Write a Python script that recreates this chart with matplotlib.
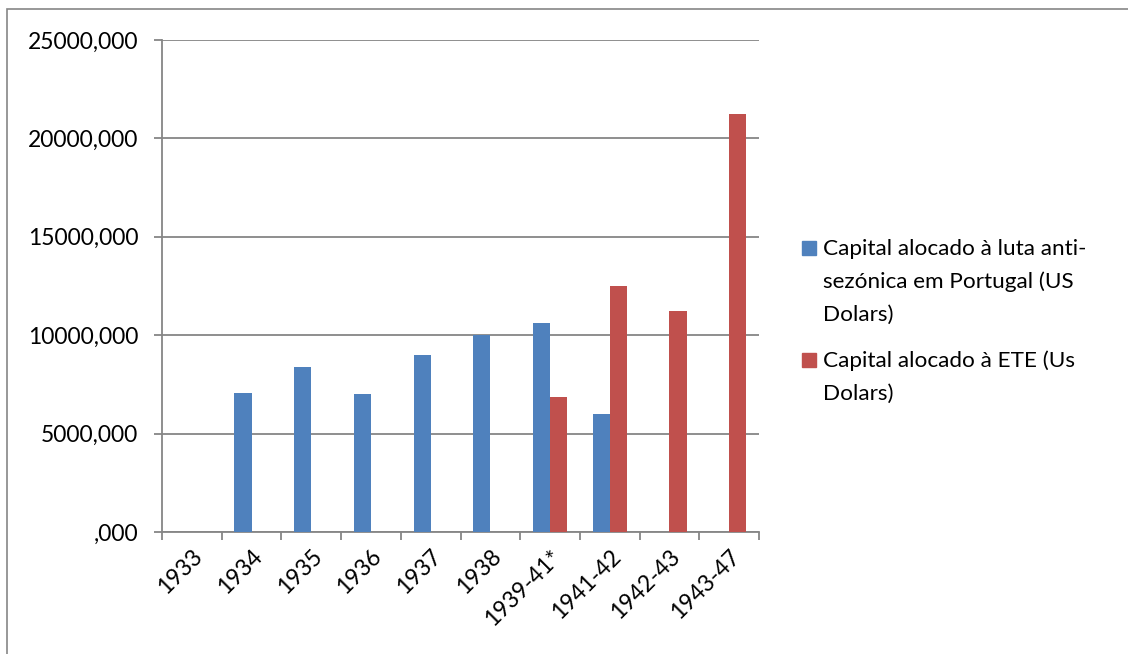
import matplotlib.pyplot as plt
import matplotlib.patches as patches
from matplotlib.ticker import FixedLocator, FuncFormatter
import numpy as np

plt.rcParams['font.family'] = ['Lato', 'DejaVu Sans']

periods = ['1933', '1934', '1935', '1936', '1937', '1938',
           '1939-41*', '1941-42', '1942-43', '1943-47']
luta = [0, 7050, 8400, 7000, 9000, 10000, 10600, 6000, 0, 0]
ete = [0, 0, 0, 0, 0, 0, 6850, 12500, 11250, 21250]

label_luta = ['Capital alocado à luta anti-', 'sezónica em Portugal (US', 'Dolars)']
label_ete = ['Capital alocado à ETE (Us', 'Dolars)']

blue = '#4f81bd'
red = '#c0504d'
grey = '#868686'

W, H = 1128, 654
fig = plt.figure(figsize=(W / 100, H / 100), dpi=100)
ax = fig.add_axes([162 / W, 1 - 532 / H, 597 / W, 492 / H])

x = np.arange(len(periods))
w = 1 / 3.5
ax.bar(x - w / 2, luta, w, color=blue, zorder=3)
ax.bar(x + w / 2, ete, w, color=red, zorder=3)

ax.set_xlim(-0.5, len(periods) - 0.5)
ax.set_ylim(0, 25000)

ax.set_yticks(np.arange(0, 25001, 5000))
ax.yaxis.set_major_formatter(FuncFormatter(lambda v, p: ('' if v == 0 else '%d' % v) + ',000'))
ax.yaxis.grid(True, color=grey, linewidth=1.3, zorder=0)

ax.set_xticks(x)
ax.set_xticklabels(periods, rotation=45, ha='right', rotation_mode='anchor')
ax.xaxis.set_minor_locator(FixedLocator(np.arange(-0.5, len(periods), 1.0)))
ax.tick_params(axis='x', which='major', length=0, pad=10, labelsize=16.5)
ax.tick_params(axis='x', which='minor', length=6, width=1.3, color=grey)
ax.tick_params(axis='y', length=6, width=1.3, color=grey, pad=11, labelsize=16.5)

for s in ['top', 'right']:
    ax.spines[s].set_visible(False)
for s in ['left', 'bottom']:
    ax.spines[s].set_color(grey)
    ax.spines[s].set_linewidth(1.3)

# legend drawn by hand: square marker beside the first line of each label
def legend_entry(color, lines, top):
    fig.patches.append(patches.Rectangle((802 / W, 1 - (top + 14) / H), 14 / W, 14 / H,
                                         transform=fig.transFigure, color=color))
    for i, line in enumerate(lines):
        fig.text(823 / W, 1 - (top + 14 + 33 * i) / H, line, fontsize=16.2,
                 va='baseline', ha='left')

legend_entry(blue, label_luta, 241)
legend_entry(red, label_ete, 353)

# outer chart frame
fig.patches.append(patches.Rectangle((7 / W, -0.1), 1.2, 1.1 - 9 / H, transform=fig.transFigure,
                                     fill=False, edgecolor=grey, linewidth=1.2, clip_on=False))

fig.savefig('out.png', dpi=100)
